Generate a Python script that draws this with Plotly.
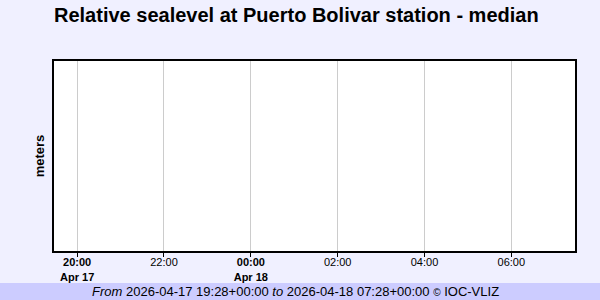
import plotly.graph_objects as go

# ---- data ----
title_text = "Relative sealevel at Puerto Bolivar station - median"
y_label = "meters"
x_start = "2026-04-17 19:28:00"
x_end = "2026-04-18 07:28:00"
times = []          # no observations in the window
values = []
tick_vals = ["2026-04-17 20:00", "2026-04-17 22:00", "2026-04-18 00:00",
             "2026-04-18 02:00", "2026-04-18 04:00", "2026-04-18 06:00"]
tick_text = ["<b>20:00<br>Apr 17</b>", "22:00", "<b>00:00<br>Apr 18</b>",
             "02:00", "04:00", "06:00"]
footer = "<i>From</i> 2026-04-17 19:28+00:00 <i>to</i> 2026-04-18 07:28+00:00 <span style='font-size:10px'>©</span> IOC-VLIZ"

W, H = 600, 300
ml, mr, mt, mb = 54, 25, 61, 49
pw, ph = W - ml - mr, H - mt - mb
band_top = 283  # pixel row where the footer band starts

fig = go.Figure(go.Scatter(x=times, y=values, mode="lines",
                           line=dict(color="#1f4e9e", width=1)))

fig.update_layout(
    width=W, height=H,
    margin=dict(l=ml, r=mr, t=mt, b=mb),
    paper_bgcolor="#f0f0ff",
    plot_bgcolor="#ffffff",
    font=dict(family="Liberation Sans, Arial, sans-serif", color="#000000", size=11),
    showlegend=False,
    title=dict(text="<b>" + title_text + "</b>", x=ml / W, xanchor="left",
               y=1 - 15 / H, yanchor="middle",
               font=dict(size=20, color="#000000")),
    xaxis=dict(type="date", range=[x_start, x_end],
               tickvals=tick_vals, ticktext=tick_text,
               showgrid=True, gridcolor="#cccccc", gridwidth=1,
               ticks="outside", ticklen=4, tickcolor="#000000",
               ticklabelstandoff=-4,
               showline=True, linecolor="#000000", linewidth=2, mirror=True,
               zeroline=False, tickfont=dict(size=11)),
    yaxis=dict(range=[0, 1], showticklabels=False, showgrid=False,
               zeroline=False, ticks="",
               showline=True, linecolor="#000000", linewidth=2, mirror=True,
               title=dict(text="<b>" + y_label + "</b>", font=dict(size=13),
                          standoff=4)),
    shapes=[dict(type="rect", xref="paper", yref="paper",
                 x0=-ml / pw - 0.01, x1=1 + mr / pw + 0.01,
                 y0=-(mb + 2) / ph, y1=-(band_top - mt - ph) / ph,
                 fillcolor="#ccccff", line=dict(width=0), layer="below")],
    annotations=[dict(text=footer, xref="paper", yref="paper",
                      x=(W / 2 - 5 - ml) / pw, xanchor="center",
                      y=-(291.5 - mt - ph) / ph, yanchor="middle",
                      showarrow=False, font=dict(size=13, color="#000000"))],
)

fig.write_html("out.html")
